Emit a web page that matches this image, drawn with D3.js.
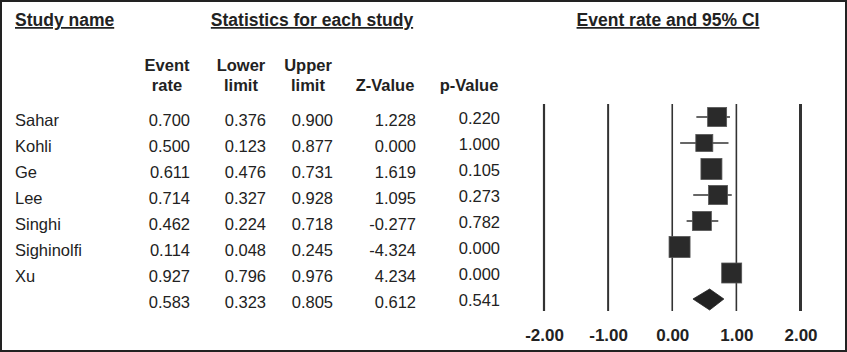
<!DOCTYPE html>
<html>
<head>
<meta charset="utf-8">
<script src="https://cdn.jsdelivr.net/npm/d3@7"></script>
<style>
  body { margin: 0; background: #fff; }
  svg { display: block; font-family: "Liberation Sans", Arial, Helvetica, sans-serif; }
</style>
</head>
<body>
<div id="chart"></div>
<script>
// study rows
var studies = ["Sahar", "Kohli", "Ge", "Lee", "Singhi", "Sighinolfi", "Xu"];
var eventRate = [0.700, 0.500, 0.611, 0.714, 0.462, 0.114, 0.927];
var lowerLimit = [0.376, 0.123, 0.476, 0.327, 0.224, 0.048, 0.796];
var upperLimit = [0.900, 0.877, 0.731, 0.928, 0.718, 0.245, 0.976];
var zValue = [1.228, 0.000, 1.619, 1.095, -0.277, -4.324, 4.234];
var pValue = [0.220, 1.000, 0.105, 0.273, 0.782, 0.000, 0.000];
// relative weights (square sizes)
var relWeight = [13.1, 10.5, 16.0, 13.1, 13.1, 16.0, 14.5];
// pooled
var summary = { rate: 0.583, lower: 0.323, upper: 0.805, z: 0.612, p: 0.541 };
var axisTicks = [-2, -1, 0, 1, 2];

var width = 847, height = 352;

var svg = d3.select("#chart").append("svg")
  .attr("width", width)
  .attr("height", height);

svg.append("rect")
  .attr("x", 1).attr("y", 1)
  .attr("width", width - 2).attr("height", height - 2)
  .attr("fill", "#fff")
  .attr("stroke", "#222")
  .attr("stroke-width", 2);

var rows = studies.map(function (s, i) {
  return {
    name: s, rate: eventRate[i], lower: lowerLimit[i], upper: upperLimit[i],
    z: zValue[i], p: pValue[i], w: relWeight[i]
  };
});
var allRows = rows.concat([{
  name: "", rate: summary.rate, lower: summary.lower, upper: summary.upper,
  z: summary.z, p: summary.p, pooled: true
}]);

var yScale = d3.scalePoint()
  .domain(d3.range(allRows.length))
  .range([117, 299]);

var xScale = d3.scaleLinear()
  .domain([-2, 2])
  .range([544, 800.5]);

var sizeScale = d3.scaleSqrt()
  .domain([0, d3.max(relWeight)])
  .range([0, 21]);

// plain hyphen for negatives, like the original table
var locale = d3.formatLocale({ decimal: ".", thousands: ",", grouping: [3], currency: ["", ""], minus: "-" });
var fmt = locale.format(".3f");
var ink = "#222";

// section headers
var headers = [
  { text: "Study name", x: 15, anchor: "start" },
  { text: "Statistics for each study", x: 312, anchor: "middle" },
  { text: "Event rate and 95% CI", x: 668, anchor: "middle" }
];
svg.selectAll(".hdr")
  .data(headers)
  .enter()
  .append("text")
  .attr("class", "hdr")
  .attr("x", function (d) { return d.x; })
  .attr("y", 26)
  .attr("text-anchor", function (d) { return d.anchor; })
  .attr("font-size", "17.5px")
  .attr("font-weight", "bold")
  .attr("fill", ink)
  .attr("text-decoration", "underline")
  .text(function (d) { return d.text; });

// column headers
var columns = [
  { key: "rate", l1: "Event", l2: "rate", cx: 167, right: 190 },
  { key: "lower", l1: "Lower", l2: "limit", cx: 241, right: 266 },
  { key: "upper", l1: "Upper", l2: "limit", cx: 308, right: 333 },
  { key: "z", l1: "", l2: "Z-Value", cx: 385, right: 416, dy: 0 },
  { key: "p", l1: "", l2: "p-Value", cx: 469, right: 500, dy: -2 }
];

columns.forEach(function (c) {
  var t = svg.append("text")
    .attr("text-anchor", "middle")
    .attr("font-size", "16.5px")
    .attr("font-weight", "bold")
    .attr("fill", ink);
  t.append("tspan").attr("x", c.cx).attr("y", 70.5).text(c.l1);
  t.append("tspan").attr("x", c.cx).attr("y", 91).text(c.l2);
});

// study names
svg.selectAll(".name")
  .data(allRows)
  .enter()
  .append("text")
  .attr("class", "name")
  .attr("x", 15)
  .attr("y", function (d, i) { return yScale(i) + 9; })
  .attr("font-size", "16.5px")
  .attr("fill", ink)
  .text(function (d) { return d.name; });

// numeric columns
columns.forEach(function (c) {
  svg.selectAll(".col-" + c.key)
    .data(allRows)
    .enter()
    .append("text")
    .attr("class", "col-" + c.key)
    .attr("x", c.right)
    .attr("y", function (d, i) { return yScale(i) + 9 + (c.dy || 0); })
    .attr("text-anchor", "end")
    .attr("font-size", "16.5px")
    .attr("fill", ink)
    .text(function (d) { return fmt(d[c.key]); });
});

// forest plot reference lines
var lineWidth = { "-2": 2.2, "-1": 2, "0": 1.6, "1": 1.6, "2": 3 };
svg.selectAll(".ref")
  .data(axisTicks)
  .enter()
  .append("line")
  .attr("class", "ref")
  .attr("x1", function (d) { return xScale(d); })
  .attr("x2", function (d) { return xScale(d); })
  .attr("y1", 104)
  .attr("y2", 311)
  .attr("stroke", "#333")
  .attr("stroke-width", function (d) { return lineWidth[d]; });

var axis = d3.axisBottom(xScale)
  .tickValues(axisTicks)
  .tickFormat(locale.format(".2f"))
  .tickSize(0)
  .tickPadding(0);

var ax = svg.append("g")
  .attr("transform", "translate(0,325)")
  .call(axis);
ax.select(".domain").remove();
ax.selectAll("text")
  .attr("font-family", "Liberation Sans, Arial, sans-serif")
  .attr("font-size", "17px")
  .attr("font-weight", "bold")
  .attr("fill", ink)
  .attr("dy", "0.95em");

// CI whiskers
var studyG = svg.append("g");
studyG.selectAll(".ci")
  .data(rows)
  .enter()
  .append("line")
  .attr("class", "ci")
  .attr("x1", function (d) { return xScale(d.lower); })
  .attr("x2", function (d) { return xScale(d.upper); })
  .attr("y1", function (d, i) { return yScale(i); })
  .attr("y2", function (d, i) { return yScale(i); })
  .attr("stroke", "#333")
  .attr("stroke-width", 1.5);

studyG.selectAll(".box")
  .data(rows)
  .enter()
  .append("rect")
  .attr("class", "box")
  .attr("x", function (d) { return xScale(d.rate) - sizeScale(d.w) / 2; })
  .attr("y", function (d, i) { return yScale(i) - sizeScale(d.w) / 2; })
  .attr("width", function (d) { return sizeScale(d.w); })
  .attr("height", function (d) { return sizeScale(d.w); })
  .attr("fill", "#2a2a2a")
  .attr("stroke", "#555")
  .attr("stroke-width", 0.8);

// pooled diamond
var py = yScale(allRows.length - 1);
svg.append("path")
  .attr("d", d3.line()([
    [xScale(summary.lower), py],
    [xScale(summary.rate), py - 10],
    [xScale(summary.upper), py],
    [xScale(summary.rate), py + 11]
  ]) + "Z")
  .attr("fill", "#222")
  .attr("stroke", "#222")
  .attr("stroke-width", 0.8);
</script>
</body>
</html>
